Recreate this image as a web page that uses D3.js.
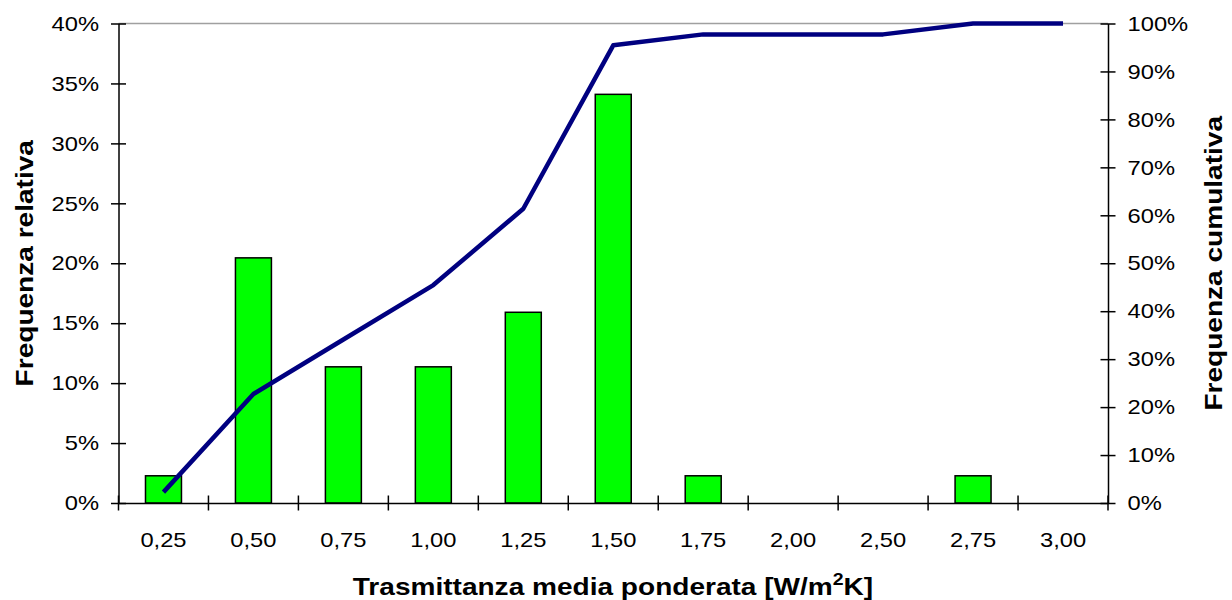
<html>
<head>
<meta charset="utf-8">
<style>
  body { margin: 0; background: #fff; }
  text { font-family: "Liberation Sans", Arial, sans-serif; fill: #000; }
</style>
</head>
<body>
<svg width="1232" height="600"></svg>
<script src="https://d3js.org/d3.v7.min.js"></script>
<script>
// categorie (trasmittanza) e frequenze
var categories = ["0,25", "0,50", "0,75", "1,00", "1,25", "1,50", "1,75", "2,00", "2,50", "2,75", "3,00"];
var relFreq = [0.0227, 0.2045, 0.1136, 0.1136, 0.1591, 0.3409, 0.0227, 0, 0, 0.0227, 0];
var cumFreq = [0.0227, 0.2273, 0.3409, 0.4545, 0.6136, 0.9545, 0.9773, 0.9773, 0.9773, 1.0, 1.0];
var leftTicks = [0, 0.05, 0.10, 0.15, 0.20, 0.25, 0.30, 0.35, 0.40];
var rightTicks = [0, 0.1, 0.2, 0.3, 0.4, 0.5, 0.6, 0.7, 0.8, 0.9, 1.0];

var svg = d3.select("svg");
var m = {left: 118.5, right: 1108, top: 23.5, bottom: 503};
var tickFont = 21, tickStretch = 1.13;   // il testo del riferimento e' un po' "allargato"
var titleFont = 23, titleStretch = 1.22;

var x = d3.scaleBand().domain(categories).range([m.left, m.right]);
var yL = d3.scaleLinear().domain([0, 0.4]).range([m.bottom, m.top]);
var yR = d3.scaleLinear().domain([0, 1]).range([m.bottom, m.top]);
var pct = function(d) { return Math.round(d * 100) + "%"; };

// bordo superiore area del grafico
svg.append("line")
    .attr("x1", m.left).attr("x2", m.right)
    .attr("y1", m.top).attr("y2", m.top)
    .attr("stroke", "#a0a0a0").attr("stroke-width", 1.5);

// barre
var bw = x.bandwidth() * 0.4;
svg.append("g").selectAll("rect")
    .data(relFreq)
    .enter().append("rect")
      .attr("x", function(d, i) { return x(categories[i]) + x.bandwidth() / 2 - bw / 2; })
      .attr("y", function(d) { return yL(d); })
      .attr("width", bw)
      .attr("height", function(d) { return m.bottom - yL(d); })
      .attr("fill", "#00ff00")
      .attr("stroke", "#000")
      .attr("stroke-width", 1.5);

// linea cumulativa
var line = d3.line()
    .x(function(d, i) { return x(categories[i]) + x.bandwidth() / 2; })
    .y(function(d) { return yR(d); });
svg.append("path")
    .datum(cumFreq)
    .attr("d", line)
    .attr("fill", "none")
    .attr("stroke", "#000080")
    .attr("stroke-width", 4.5)
    .attr("stroke-linejoin", "round");

// assi
function styleAxis(g, tx) {
  g.attr("font-size", tickFont).attr("font-family", "Liberation Sans, Arial, sans-serif");
  g.selectAll("path, line").attr("stroke", "#000").attr("stroke-width", 1.5);
  g.selectAll(".tick text")
      .attr("fill", "#000")
      .attr("x", 0)
      .attr("transform", "translate(" + tx + ",0) scale(" + tickStretch + ",1)");
}

var gL = svg.append("g")
    .attr("transform", "translate(" + m.left + ",0)")
    .call(d3.axisLeft(yL).tickValues(leftTicks).tickFormat(pct).tickSizeOuter(0).tickSize(0));
gL.selectAll(".tick line").attr("x1", -7.5).attr("x2", 7.5);
styleAxis(gL, -19.5);

var gR = svg.append("g")
    .attr("transform", "translate(" + m.right + ",0)")
    .call(d3.axisRight(yR).tickValues(rightTicks).tickFormat(pct).tickSizeOuter(0).tickSize(0));
gR.selectAll(".tick line").attr("x1", -7.5).attr("x2", 7.5);
styleAxis(gR, 19.5);

var gX = svg.append("g")
    .attr("transform", "translate(0," + m.bottom + ")")
    .call(d3.axisBottom(x).tickSize(0).tickSizeOuter(0).tickPadding(29));
gX.selectAll(".tick line").remove();
styleAxis(gX, 0);
// tacche ai confini delle categorie
var bounds = categories.map(function(c) { return x(c); }).concat([m.right]);
gX.selectAll(".bound")
    .data(bounds)
    .enter().append("line")
      .attr("x1", function(d) { return d; }).attr("x2", function(d) { return d; })
      .attr("y1", -7.5).attr("y2", 7.5)
      .attr("stroke", "#000").attr("stroke-width", 1.5);

// titoli
function title(tr) {
  return svg.append("text")
      .attr("font-size", titleFont)
      .attr("font-weight", "bold")
      .attr("text-anchor", "middle")
      .attr("transform", tr + " scale(" + titleStretch + ",1)");
}
var midY = (m.top + m.bottom) / 2;
title("translate(33," + midY + ") rotate(-90)").text("Frequenza relativa");
title("translate(1222," + midY + ") rotate(-90)").text("Frequenza cumulativa");

var xt = title("translate(613,595)");
xt.append("tspan").text("Trasmittanza media ponderata [W/m");
xt.append("tspan").attr("dy", -10).attr("font-size", 16).text("2");
xt.append("tspan").attr("dy", 10).text("K]");
</script>
</body>
</html>
